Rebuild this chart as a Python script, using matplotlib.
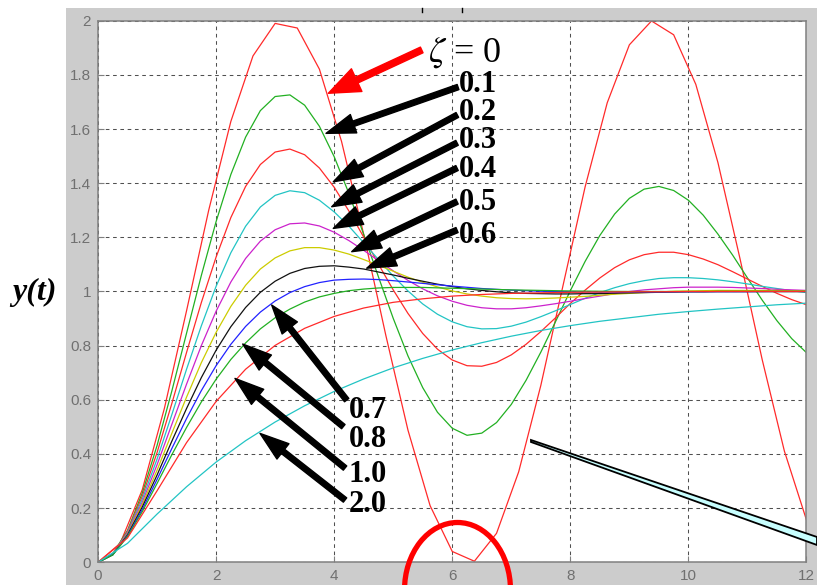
import numpy as np
import matplotlib
matplotlib.use('Agg')
import matplotlib.pyplot as plt
from matplotlib.patches import Rectangle, Ellipse, Polygon
from matplotlib.lines import Line2D

# step response samples
t0 = [0, 0.375, 0.75, 1.125, 1.5, 1.875, 2.25, 2.625, 3.0, 3.375, 3.75, 4.125,
      4.5, 4.875, 5.25, 5.625, 6.0, 6.375, 6.75, 7.125, 7.5, 7.875, 8.25, 8.625,
      9.0, 9.375, 9.75, 10.125, 10.5, 10.875, 11.25, 11.625, 12.0]
y_z00 = [0, 0.070, 0.268, 0.569, 0.929, 1.300, 1.628, 1.870, 1.990, 1.973, 1.821, 1.554,
         1.211, 0.838, 0.488, 0.209, 0.040, 0.004, 0.107, 0.334, 0.653, 1.021, 1.386, 1.697,
         1.911, 1.999, 1.948, 1.765, 1.476, 1.120, 0.748, 0.411, 0.156]

t_fine = [0, 0.25, 0.5, 0.75, 1, 1.25, 1.5, 1.75, 2, 2.25, 2.5, 2.75, 3, 3.25, 3.5, 3.75,
          4, 4.25, 4.5, 4.75, 5, 5.25, 5.5, 5.75, 6, 6.25, 6.5, 6.75, 7, 7.25, 7.5, 7.75,
          8, 8.25, 8.5, 8.75, 9, 9.25, 9.5, 9.75, 10, 10.25, 10.5, 10.75, 11, 11.25, 11.5,
          11.75, 12]
y_z01 = [0, 0.031, 0.118, 0.256, 0.431, 0.632, 0.846, 1.059, 1.258, 1.432, 1.570, 1.668,
         1.720, 1.726, 1.688, 1.610, 1.498, 1.362, 1.211, 1.054, 0.901, 0.762, 0.645, 0.554,
         0.495, 0.469, 0.477, 0.516, 0.583, 0.672, 0.776, 0.889, 1.003, 1.111, 1.207, 1.286,
         1.344, 1.378, 1.388, 1.373, 1.337, 1.282, 1.212, 1.134, 1.050, 0.968, 0.892, 0.826,
         0.774]
y_z02 = [0, 0.030, 0.115, 0.244, 0.405, 0.586, 0.775, 0.959, 1.127, 1.273, 1.388, 1.469,
         1.515, 1.526, 1.505, 1.456, 1.385, 1.297, 1.201, 1.101, 1.006, 0.919, 0.845, 0.787,
         0.747, 0.726, 0.724, 0.738, 0.766, 0.805, 0.852, 0.903, 0.956, 1.005, 1.050, 1.088,
         1.117, 1.136, 1.145, 1.145, 1.136, 1.120, 1.099, 1.073, 1.046, 1.019, 0.993, 0.970,
         0.951]
y_z03 = [0, 0.030, 0.111, 0.233, 0.381, 0.545, 0.713, 0.873, 1.019, 1.143, 1.241, 1.312,
         1.355, 1.372, 1.365, 1.337, 1.294, 1.241, 1.180, 1.118, 1.057, 1.002, 0.954, 0.916,
         0.888, 0.870, 0.862, 0.863, 0.872, 0.887, 0.907, 0.929, 0.952, 0.975, 0.996, 1.014,
         1.029, 1.040, 1.048, 1.051, 1.051, 1.048, 1.043, 1.036, 1.028, 1.019, 1.011, 1.003,
         0.996]
y_z04 = [0, 0.029, 0.108, 0.222, 0.360, 0.509, 0.658, 0.800, 0.927, 1.035, 1.122, 1.186,
         1.228, 1.250, 1.253, 1.242, 1.219, 1.188, 1.152, 1.114, 1.076, 1.041, 1.010, 0.984,
         0.964, 0.949, 0.940, 0.936, 0.936, 0.940, 0.947, 0.955, 0.964, 0.974, 0.983, 0.992,
         1.000, 1.006, 1.010, 1.014, 1.016, 1.016, 1.016, 1.015, 1.013, 1.011, 1.008, 1.006,
         1.004]
y_z05 = [0, 0.029, 0.104, 0.213, 0.340, 0.476, 0.610, 0.737, 0.849, 0.945, 1.023, 1.083,
         1.124, 1.150, 1.162, 1.162, 1.153, 1.138, 1.118, 1.097, 1.075, 1.053, 1.034, 1.017,
         1.002, 0.991, 0.983, 0.977, 0.974, 0.973, 0.974, 0.976, 0.979, 0.982, 0.986, 0.990,
         0.993, 0.996, 0.998, 1.001, 1.002, 1.003, 1.004, 1.004, 1.004, 1.004, 1.004, 1.003,
         1.003]
y_z06 = [0, 0.028, 0.101, 0.204, 0.322, 0.447, 0.568, 0.682, 0.783, 0.870, 0.941, 0.997,
         1.038, 1.067, 1.085, 1.093, 1.095, 1.090, 1.083, 1.072, 1.061, 1.049, 1.038, 1.027,
         1.018, 1.010, 1.004, 0.999, 0.995, 0.993, 0.992, 0.991, 0.991, 0.992, 0.992, 0.994,
         0.995, 0.996, 0.997, 0.998, 0.999, 0.999, 1.000, 1.000, 1.000, 1.000, 1.000, 1.000,
         1.000]

t7 = [0, 0.25, 0.5, 0.75, 1, 1.25, 1.5, 1.75, 2, 2.25, 2.5, 2.75, 3, 3.25, 3.5, 3.75,
      4, 4.25, 4.5, 4.75, 5, 5.25, 5.5, 5.75, 6, 6.5, 7, 7.5, 8, 8.5, 9, 9.5, 10, 10.5,
      11, 11.5, 12]
y_z07 = [0, 0.028, 0.098, 0.195, 0.306, 0.420, 0.531, 0.634, 0.726, 0.805, 0.871, 0.924,
         0.965, 0.996, 1.018, 1.033, 1.042, 1.045, 1.046, 1.044, 1.040, 1.035, 1.030, 1.025,
         1.020, 1.011, 1.005, 1.001, 0.999, 0.998, 0.998, 0.998, 0.999, 0.999, 0.999, 1.000,
         1.000]

t8 = [0, 0.25, 0.5, 0.75, 1, 1.25, 1.5, 1.75, 2, 2.25, 2.5, 2.75, 3, 3.25, 3.5, 3.75,
      4, 4.25, 4.5, 4.75, 5, 5.5, 6, 6.5, 7, 7.5, 8, 8.5, 9, 9.5, 10, 10.5, 11, 11.5, 12]
y_z08 = [0, 0.027, 0.095, 0.187, 0.291, 0.397, 0.498, 0.592, 0.676, 0.749, 0.810, 0.862,
         0.903, 0.935, 0.961, 0.980, 0.993, 1.003, 1.009, 1.013, 1.015, 1.015, 1.012, 1.009,
         1.006, 1.004, 1.002, 1.001, 1.000, 1.000, 1.000, 1.000, 1.000, 1.000, 1.000]

t = [0, 0.5, 1, 1.5, 2, 2.5, 3, 3.5, 4, 4.5, 5, 5.5, 6, 6.5, 7, 7.5, 8, 8.5,
     9, 9.5, 10, 10.5, 11, 11.5, 12]
y_z10 = [0, 0.090, 0.264, 0.442, 0.594, 0.713, 0.801, 0.864, 0.908, 0.939, 0.960, 0.973, 0.983,
         0.989, 0.993, 0.995, 0.997, 0.998, 0.999, 0.999, 1.000, 1.000, 1.000, 1.000, 1.000]
y_z20 = [0, 0.070, 0.178, 0.279, 0.370, 0.449, 0.518, 0.578, 0.631, 0.677, 0.718, 0.753, 0.784,
         0.811, 0.835, 0.856, 0.874, 0.890, 0.903, 0.916, 0.926, 0.935, 0.943, 0.951, 0.957]

curves = [(t0, y_z00, '#ff2a2a'), (t_fine, y_z01, '#22b022'), (t_fine, y_z02, '#ff2a2a'),
          (t_fine, y_z03, '#22c4c4'), (t_fine, y_z04, '#cc22cc'), (t_fine, y_z05, '#cccc00'),
          (t_fine, y_z06, '#111111'), (t7, y_z07, '#2222ff'), (t8, y_z08, '#22b022'),
          (t, y_z10, '#ff2a2a'), (t, y_z20, '#22c4c4')]

x_ticks = [0, 2, 4, 6, 8, 10, 12]
y_ticks = [0, 0.2, 0.4, 0.6, 0.8, 1, 1.2, 1.4, 1.6, 1.8, 2]
y_ticklabels = ['0', '0.2', '0.4', '0.6', '0.8', '1', '1.2', '1.4', '1.6', '1.8', '2']

# labels: text, text position, arrow tail, arrow tip (data units)
labels = [('0.1', (6.114, 1.738), (6.098, 1.755), (3.862, 1.584)),
          ('0.2', (6.114, 1.633), (6.086, 1.652), (3.985, 1.405)),
          ('0.3', (6.114, 1.529), (6.081, 1.549), (3.958, 1.313)),
          ('0.4', (6.114, 1.424), (6.081, 1.456), (3.985, 1.233)),
          ('0.5', (6.114, 1.301), (6.081, 1.332), (4.297, 1.147)),
          ('0.6', (6.114, 1.178), (6.081, 1.227), (4.551, 1.086)),
          ('0.7', (4.243, 0.532), (4.212, 0.599), (2.942, 0.950)),
          ('0.8', (4.243, 0.427), (4.155, 0.501), (2.451, 0.806)),
          ('1.0', (4.243, 0.298), (4.184, 0.348), (2.320, 0.679)),
          ('2.0', (4.243, 0.187), (4.184, 0.230), (2.744, 0.476))]

plt.rcParams['font.family'] = ['Liberation Sans', 'DejaVu Sans']
plt.rcParams['mathtext.fontset'] = 'stix'

W, H = 817, 585
fig = plt.figure(figsize=(W / 100, H / 100), dpi=100)


def fx(px):
    return px / W


def fy(py):
    return 1 - py / H


# grey matlab figure background
fig.add_artist(Rectangle((fx(66), 0), 1 - fx(66), fy(8), transform=fig.transFigure,
                         facecolor='#cccccc', edgecolor='none', zorder=-1))
for px in (421.7, 462.3):
    fig.add_artist(Line2D([fx(px), fx(px)], [fy(8), fy(12)], transform=fig.transFigure,
                          color='k', lw=1))

ax = fig.add_axes([fx(98), fy(562.3), fx(806.5) - fx(98), fy(20.7) - fy(562.3)])
ax.set_facecolor('white')

for tt, yy, c in curves:
    ax.plot(tt, yy, color=c, lw=0.9)

ax.set_xlim(0, 12)
ax.set_ylim(0, 2)
ax.set_xticks(x_ticks)
ax.set_yticks(y_ticks)
ax.set_yticklabels(y_ticklabels)
ax.tick_params(direction='in', length=4, color='#808080', labelcolor='#707070',
               labelsize=11, pad=5)
ax.set_axisbelow(True)
ax.grid(True, color='#505050', linestyle=(0, (3.5, 3.5)), linewidth=0.75)
for s in ax.spines.values():
    s.set_color('#808080')
    s.set_linewidth(1.1)

# zeta = 0 (red arrow)
ax.annotate('', xy=(3.901, 1.732), xytext=(5.483, 1.892),
            arrowprops=dict(arrowstyle='simple,head_length=0.75,head_width=0.6,tail_width=0.15',
                            mutation_scale=30, color='red', shrinkA=0, shrinkB=0))
ax.text(5.589, 1.849, r'$\zeta$ = 0', fontsize=26, family='Liberation Serif',
        ha='left', va='baseline')

for txt, pos, tail, tip in labels:
    ax.annotate('', xy=tip, xytext=tail,
                arrowprops=dict(arrowstyle='simple,head_length=0.75,head_width=0.5,tail_width=0.14',
                                mutation_scale=28, color='k', shrinkA=0, shrinkB=0))
    ax.text(pos[0], pos[1], txt, fontsize=22, fontweight='bold', family='Liberation Serif',
            ha='left', va='baseline')

fig.text(fx(34), fy(292), 'y(t)', fontsize=23, fontweight='bold', style='italic',
         family='Liberation Serif', ha='center', va='center')

# marks drawn over the figure
fig.add_artist(Polygon([(fx(531), fy(440)), (fx(817), fy(537)), (fx(817), fy(545)),
                        (fx(531), fy(442))], closed=True, transform=fig.transFigure,
                       facecolor='#c8ffff', edgecolor='k', lw=1.3, zorder=5))
fig.add_artist(Ellipse((fx(457.5), fy(590)), 106 / W, 135 / H, transform=fig.transFigure,
                       facecolor='none', edgecolor='red', lw=3.8, zorder=6))

fig.savefig('out.png', dpi=100)
